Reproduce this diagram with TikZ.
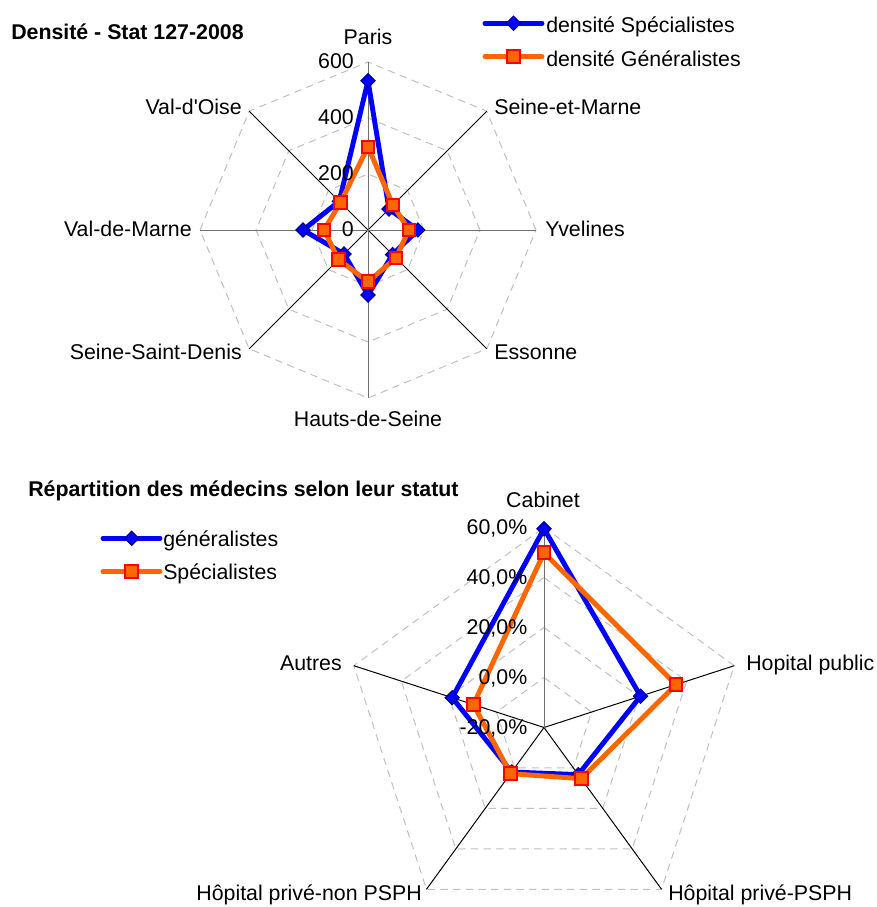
\documentclass[tikz,border=0pt]{standalone}
\usepackage{fontspec}
\newfontfamily\arialf{Liberation Sans}
\usetikzlibrary{shapes.geometric}
\definecolor{sblue}{HTML}{0000FF}
\definecolor{sorange}{HTML}{FF6600}
\definecolor{sred}{HTML}{FF0000}
\definecolor{snavy}{HTML}{000080}
\definecolor{sgrid}{HTML}{C0C0C0}
\definecolor{saxis}{HTML}{707070}
\begin{document}
\begin{tikzpicture}[x=0.75pt,y=-0.75pt,
  font=\arialf\fontsize{16}{19}\selectfont,
  gridline/.style={draw=sgrid, line width=0.75pt, dash pattern=on 5.5pt off 4pt},
  spoke/.style={draw=black, line width=0.75pt},
  vaxis/.style={draw=saxis, line width=0.75pt},
  bser/.style={draw=sblue, line width=3.7pt, line join=round},
  oser/.style={draw=sorange, line width=3.7pt, line join=round},
  bmark/.style={diamond, fill=sblue, draw=snavy, line width=0.75pt, inner sep=0pt, minimum width=11pt, minimum height=11pt},
  omark/.style={rectangle, fill=sorange, draw=sred, line width=1.5pt, inner sep=0pt, minimum size=9.5pt},
  lab/.style={inner sep=0pt},
  ttl/.style={inner sep=0pt, font=\arialf\bfseries\fontsize{16}{19}\selectfont},
]
\useasboundingbox (0,0) rectangle (877,907);

% ================= TOP CHART =================
\begin{scope}[shift={(368,230)}, yscale=-1]
  \coordinate (tc) at (0,0);
  \foreach \r in {56,112,168}
    \draw[gridline] (0:\r) -- (45:\r) -- (90:\r) -- (135:\r) -- (180:\r) -- (225:\r) -- (270:\r) -- (315:\r) -- cycle;
  \coordinate (tP) at (90:168);
  \coordinate (tSM) at (45:168);
  \coordinate (tY) at (0:168);
  \coordinate (tE) at (-45:168);
  \coordinate (tH) at (-90:168);
  \coordinate (tS) at (-135:168);
  \coordinate (tV) at (180:168);
  \coordinate (tO) at (135:168);
  \draw[spoke] (tc) -- (tSM);
  \draw[spoke] (tc) -- (tE);
  \draw[spoke] (tc) -- (tS);
  \draw[spoke] (tc) -- (tO);
  \draw[vaxis] (tc) -- (tY);
  \draw[vaxis] (tc) -- (tV);
  \draw[vaxis] (tc) -- (tH);
  \draw[vaxis] (tc) -- (tP);
  % Specialistes (blue)
  \coordinate (b1) at (90:{533*0.28});
  \coordinate (b2) at (45:{106*0.28});
  \coordinate (b3) at (0:{178*0.28});
  \coordinate (b4) at (-45:{124*0.28});
  \coordinate (b5) at (-90:{232*0.28});
  \coordinate (b6) at (-135:{121*0.28});
  \coordinate (b7) at (180:{232*0.28});
  \coordinate (b8) at (135:{145*0.28});
  % Generalistes (orange)
  \coordinate (o1) at (90:{297*0.28});
  \coordinate (o2) at (45:{126*0.28});
  \coordinate (o3) at (0:{146*0.28});
  \coordinate (o4) at (-45:{141*0.28});
  \coordinate (o5) at (-90:{185*0.28});
  \coordinate (o6) at (-135:{149*0.28});
  \coordinate (o7) at (180:{157*0.28});
  \coordinate (o8) at (135:{139*0.28});
\end{scope}
\draw[bser] (b1) -- (b2) -- (b3) -- (b4) -- (b5) -- (b6) -- (b7) -- (b8) -- cycle;
\foreach \i in {1,...,8} \node[bmark] (mb\i) at (b\i) {};
\draw[oser] (o1) -- (o2) -- (o3) -- (o4) -- (o5) -- (o6) -- (o7) -- (o8) -- cycle;
\foreach \i in {1,...,8} \node[omark] (mo\i) at (o\i) {};

% scale labels
\node[lab, anchor=base east] (t600) at (354,68.5) {600};
\node[lab, anchor=base east] (t400) at (354,124.5) {400};
\node[lab, anchor=base east] (t200) at (354,180.5) {200};
\node[lab, anchor=base east] (t0) at (354,236.5) {0};

% category labels
\node[lab, anchor=base] (lP) at (368,44) {Paris};
\node[lab, anchor=base west] (lSM) at (494,114) {Seine-et-Marne};
\node[lab, anchor=base west] (lY) at (545,236.5) {Yvelines};
\node[lab, anchor=base west] (lE) at (494,359) {Essonne};
\node[lab, anchor=base] (lH) at (368,426) {Hauts-de-Seine};
\node[lab, anchor=base east] (lS) at (242,359) {Seine-Saint-Denis};
\node[lab, anchor=base east] (lV) at (192,236.5) {Val-de-Marne};
\node[lab, anchor=base east] (lO) at (242,114) {Val-d'Oise};

% title
\node[ttl, anchor=base west] (title1) at (11,39) {Densité - Stat 127-2008};

% legend top
\coordinate (lg1a) at (485,23.3);
\coordinate (lg1b) at (542,23.3);
\coordinate (lg2a) at (485,56.7);
\coordinate (lg2b) at (542,56.7);
\draw[bser, line cap=round] (lg1a) -- (lg1b);
\node[bmark] (lgm1) at (513.5,23.3) {};
\draw[oser, line cap=round] (lg2a) -- (lg2b);
\node[omark] (lgm2) at (513.5,56.7) {};
\node[lab, anchor=base west] (lgt1) at (546,32.7) {densité Spécialistes};
\node[lab, anchor=base west] (lgt2) at (546,66) {densité Généralistes};

% ================= BOTTOM CHART =================
\begin{scope}[shift={(544,727.5)}, yscale=-1]
  \coordinate (bc) at (0,0);
  \foreach \r in {50,100,150,200}
    \draw[gridline] (90:\r) -- (18:\r) -- (-54:\r) -- (-126:\r) -- (162:\r) -- cycle;
  \coordinate (bC) at (90:200);
  \coordinate (bHP) at (18:200);
  \coordinate (bPS) at (-54:200);
  \coordinate (bNP) at (-126:200);
  \coordinate (bA) at (162:200);
  \draw[spoke] (bc) -- (bHP);
  \draw[spoke] (bc) -- (bPS);
  \draw[spoke] (bc) -- (bNP);
  \draw[spoke] (bc) -- (bA);
  \draw[vaxis] (bc) -- (bC);
  % generalistes (blue)
  \coordinate (g1) at (90:{(59.5+20)*2.5});
  \coordinate (g2) at (18:{(20.6+20)*2.5});
  \coordinate (g3) at (-54:{(3.3+20)*2.5});
  \coordinate (g4) at (-126:{(2.0+20)*2.5});
  \coordinate (g5) at (162:{(18.6+20)*2.5});
  % specialistes (orange)
  \coordinate (s1) at (90:{(49.9+20)*2.5});
  \coordinate (s2) at (18:{(35.5+20)*2.5});
  \coordinate (s3) at (-54:{(5.3+20)*2.5});
  \coordinate (s4) at (-126:{(2.8+20)*2.5});
  \coordinate (s5) at (162:{(9.7+20)*2.5});
\end{scope}
\draw[bser] (g1) -- (g2) -- (g3) -- (g4) -- (g5) -- cycle;
\foreach \i in {1,...,5} \node[bmark] (mg\i) at (g\i) {};
\draw[oser] (s1) -- (s2) -- (s3) -- (s4) -- (s5) -- cycle;
\foreach \i in {1,...,5} \node[omark] (ms\i) at (s\i) {};

% scale labels
\node[lab, anchor=base east] (p60) at (527.5,534) {60,0\%};
\node[lab, anchor=base east] (p40) at (527.5,584) {40,0\%};
\node[lab, anchor=base east] (p20) at (527.5,634) {20,0\%};
\node[lab, anchor=base east] (p0) at (527.5,684) {0,0\%};
\node[lab, anchor=base east] (pm20) at (527.5,734) {-20,0\%};

% category labels
\node[lab, anchor=base] (lC) at (543,507) {Cabinet};
\node[lab, anchor=base west] (lHP) at (746,670) {Hopital public};
\node[lab, anchor=base west] (lPS) at (668,900) {Hôpital privé-PSPH};
\node[lab, anchor=base east] (lNP) at (422,900) {Hôpital privé-non PSPH};
\node[lab, anchor=base east] (lA) at (342,670) {Autres};

% title
\node[ttl, anchor=base west] (title2) at (28,496) {Répartition des médecins selon leur statut};

% legend bottom
\coordinate (lh1a) at (103,538.3);
\coordinate (lh1b) at (160,538.3);
\coordinate (lh2a) at (103,571.7);
\coordinate (lh2b) at (160,571.7);
\draw[bser, line cap=round] (lh1a) -- (lh1b);
\node[bmark] (lhm1) at (131.7,538.3) {};
\draw[oser, line cap=round] (lh2a) -- (lh2b);
\node[omark] (lhm2) at (131.7,571.7) {};
\node[lab, anchor=base west] (lht1) at (163,546) {généralistes};
\node[lab, anchor=base west] (lht2) at (163,579.3) {Spécialistes};
\end{tikzpicture}
\end{document}
